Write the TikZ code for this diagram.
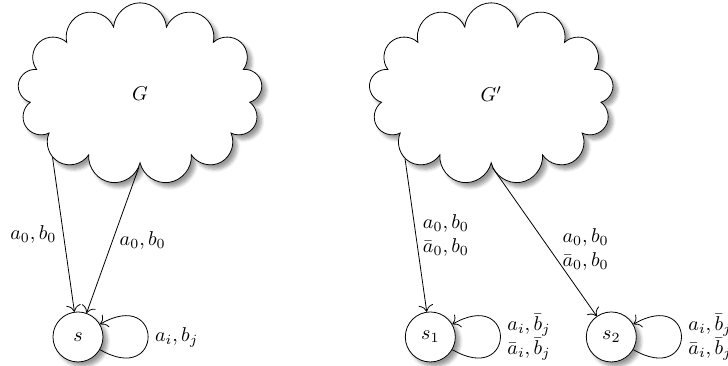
\documentclass[tikz,border=0pt]{standalone}
\usetikzlibrary{shapes.symbols,shadows.blur,arrows.meta}

\begin{document}
\begin{tikzpicture}[>={To[scale=1.4]},
        blob/.style={cloud, draw, fill=white, cloud puffs=13, cloud puff arc=170, cloud ignores aspect,
            minimum width=4.3cm, minimum height=3.2cm, blur shadow={shadow blur steps=6}},
        vertex/.style={circle, draw, fill=white, minimum size=25pt, inner sep=0pt,
            blur shadow={shadow blur steps=6}},
        selfloop/.style={out=-30, in=30, min distance=13mm}]
        \useasboundingbox (0,0) rectangle (12.79,6.43);

        % 左边: G 与 s
        \node[blob] (G) at (2.46,4.78) {$G$};
        \node[vertex] (s) at (1.37,0.51) {$s$};
        \draw[->] (G.216) -- node[left] {$a_0,b_0$} (s);
        \draw[->] (G.269) -- node[right] {$a_0,b_0$} (s);
        \draw[->] (s) to[selfloop] node[right] {$a_i,b_j$} (s);

        % 右边: G' 与 s_1, s_2
        \node[blob] (Gp) at (8.63,4.78) {$G'$};
        \node[vertex] (s1) at (7.56,0.51) {$s_1$};
        \node[vertex] (s2) at (10.74,0.51) {$s_2$};
        \draw[->] (Gp.217) -- node[right, align=left] {$a_0,b_0$\\$\bar{a}_0,b_0$} (s1);
        \draw[->] (Gp.271) -- node[pos=0.55, right=1mm, align=left] {$a_0,b_0$\\$\bar{a}_0,b_0$} (s2);
        \draw[->] (s1) to[selfloop] node[right, align=left] {$a_i,\bar{b}_j$\\$\bar{a}_i,\bar{b}_j$} (s1);
        \draw[->] (s2) to[selfloop] node[right, align=left] {$a_i,\bar{b}_j$\\$\bar{a}_i,\bar{b}_j$} (s2);
    \end{tikzpicture}
\end{document}
